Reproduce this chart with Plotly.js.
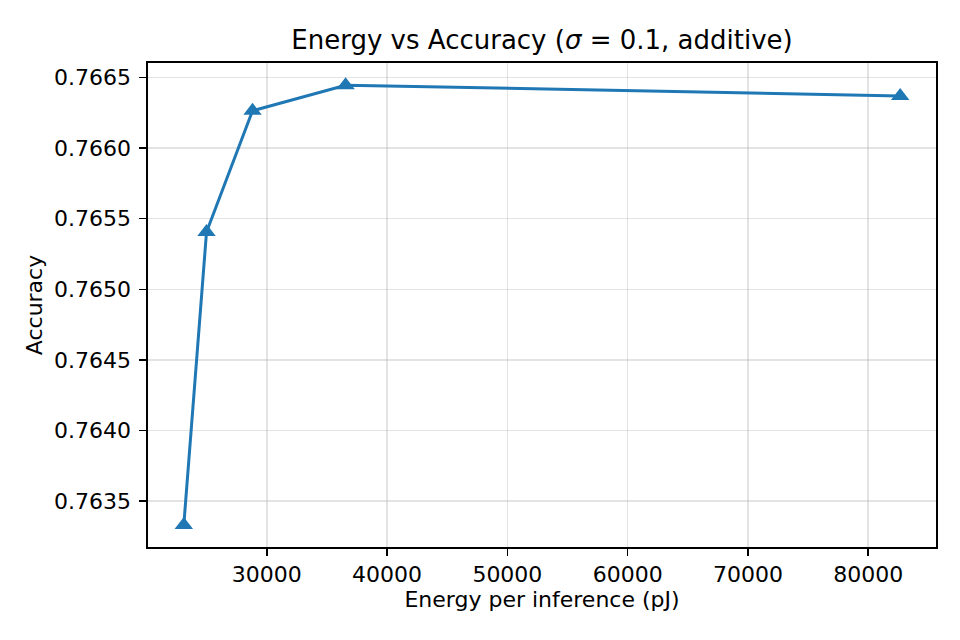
<!DOCTYPE html>
<html>
<head>
<meta charset="utf-8">
<script src="https://cdn.plot.ly/plotly-3.0.1.min.js"></script>
<style>
    html, body { margin: 0; padding: 0; background: #fff; }
    #chart { width: 960px; height: 640px; }
</style>
</head>
<body>
<div id="chart"></div>
<script>
// Datos
const energyPJ = [23095, 24983, 28810, 36547, 82662];
const accuracy = [0.763332, 0.765406, 0.766264, 0.766445, 0.766369];
const xTicks = [30000, 40000, 50000, 60000, 70000, 80000];
const yTicks = [0.7635, 0.7640, 0.7645, 0.7650, 0.7655, 0.7660, 0.7665];

/**
 * Renderiza la curva energía vs precisión
 * @param {string} elementId - ID del elemento contenedor
 */
function renderAccuracyChart(elementId) {
    const element = document.getElementById(elementId);
    if (!element) return;

    const font = { family: 'DejaVu Sans, sans-serif', color: '#000', size: 22 };

    const trace = {
        x: energyPJ,
        y: accuracy,
        type: 'scatter',
        mode: 'lines+markers',
        line: { color: '#1f77b4', width: 3 },
        marker: { color: '#1f77b4', size: 16, symbol: 'triangle-up' },
        hoverinfo: 'x+y',
    };

    const axisBase = {
        showline: true,
        mirror: true,
        linecolor: '#000',
        linewidth: 1.6,
        ticks: 'outside',
        ticklen: 7,
        tickwidth: 1.6,
        tickcolor: '#000',
        showgrid: true,
        gridcolor: 'rgba(176,176,176,0.35)',
        gridwidth: 1.6,
        zeroline: false,
        tickfont: font,
    };

    const layout = {
        width: 960,
        height: 640,
        paper_bgcolor: '#fff',
        plot_bgcolor: '#fff',
        font: font,
        margin: { l: 148, r: 24, t: 63, b: 93 },
        title: {
            text: 'Energy vs Accuracy (<i>σ</i> = 0.1, additive)',
            font: { family: 'DejaVu Sans, sans-serif', size: 26, color: '#000' },
            x: 0.5646,
            xanchor: 'center',
            xref: 'container',
            yref: 'paper',
            y: 1,
            yanchor: 'bottom',
            pad: { b: 14 },
        },
        xaxis: {
            ...axisBase,
            range: [20117, 85640],
            tickvals: xTicks,
            ticktext: xTicks.map(v => String(v)),
            title: { text: 'Energy per inference (pJ)', font: font, standoff: 5 },
        },
        yaxis: {
            ...axisBase,
            range: [0.763176, 0.766602],
            tickvals: yTicks,
            ticktext: yTicks.map(v => v.toFixed(4)),
            ticklabelstandoff: 4,
            title: { text: 'Accuracy', font: font, standoff: 5 },
        },
        showlegend: false,
    };

    Plotly.newPlot(elementId, [trace], layout, { displayModeBar: false, staticPlot: true });
}

renderAccuracyChart('chart');
</script>
</body>
</html>
